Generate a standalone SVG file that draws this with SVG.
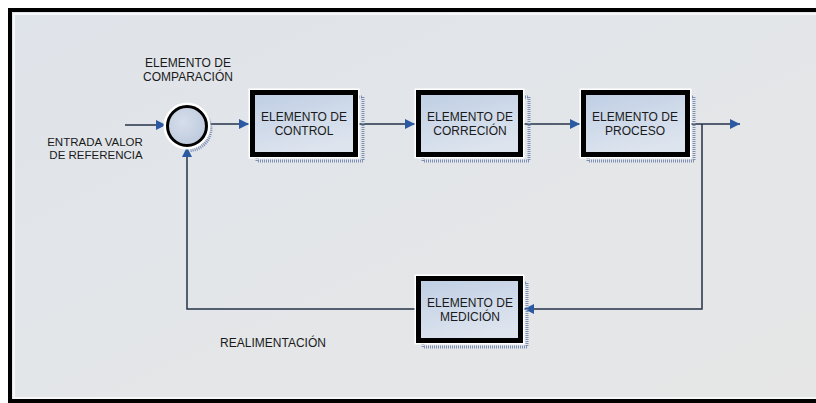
<svg xmlns="http://www.w3.org/2000/svg" width="816" height="403" viewBox="0 0 816 403">
<defs>
<linearGradient id="bg" x1="0" y1="0" x2="1" y2="1">
<stop offset="0" stop-color="#dfe4ea"/>
<stop offset="0.6" stop-color="#e4e6e8"/>
<stop offset="1" stop-color="#e6e6e6"/>
</linearGradient>
<linearGradient id="boxfill" x1="0" y1="0" x2="0.4" y2="1">
<stop offset="0" stop-color="#bfcee4"/>
<stop offset="1" stop-color="#dde4ee"/>
</linearGradient>
<radialGradient id="circfill" cx="0.4" cy="0.4" r="0.7">
<stop offset="0" stop-color="#d6deea"/>
<stop offset="1" stop-color="#bac8dc"/>
</radialGradient>
<marker id="arr" viewBox="0 0 10 10" refX="10" refY="5" markerWidth="10" markerHeight="10" markerUnits="userSpaceOnUse" orient="auto">
<path d="M0,0 L10,5 L0,10 z" fill="#2b5aa3"/>
</marker>
<style>
.lbl{font-family:"Liberation Sans",Arial,sans-serif;font-size:12px;fill:#1a1a1a;text-anchor:middle}
.box{fill:url(#boxfill);stroke:#000;stroke-width:5}
.glow{fill:none;stroke:#ffffff;stroke-width:3}
.shadow{fill:none;stroke:#7d8fb3;stroke-width:3;stroke-dasharray:1 1}
.conn{fill:none;stroke:#25324a;stroke-width:1.5}
</style>
</defs>
<rect x="0" y="0" width="816" height="403" fill="#ffffff"/>
<rect x="12" y="12" width="830" height="388" fill="url(#bg)"/>
<rect x="14" y="14" width="830" height="384" fill="none" stroke="#f6f7f8" stroke-width="2"/>
<rect x="10" y="10" width="840" height="391" fill="none" stroke="#000" stroke-width="4"/>

<g id="connectors">
<line class="conn" x1="125" y1="125" x2="166" y2="125" marker-end="url(#arr)"/>
<line class="conn" x1="208" y1="124" x2="249" y2="124" marker-end="url(#arr)"/>
<line class="conn" x1="358" y1="124" x2="415" y2="124" marker-end="url(#arr)"/>
<line class="conn" x1="523" y1="124" x2="580" y2="124" marker-end="url(#arr)"/>
<line class="conn" x1="690" y1="124" x2="740" y2="124" marker-end="url(#arr)"/>
<polyline class="conn" points="702,124 702,309 524,309" marker-end="url(#arr)"/>
<polyline class="conn" points="416,309 187,309 187,147" marker-end="url(#arr)"/>
</g>

<g id="comparador">
<path d="M205,115 A21,21 0 0 1 190,150" fill="none" stroke="#7d8fb3" stroke-width="4" stroke-dasharray="1 1"/>
<circle cx="187" cy="126" r="22" fill="none" stroke="#ffffff" stroke-width="3"/>
<circle cx="187" cy="126" r="19.5" fill="url(#circfill)" stroke="#000" stroke-width="3"/>
<text class="lbl" x="188" y="67">ELEMENTO DE</text>
<text class="lbl" x="188" y="81">COMPARACIÓN</text>
</g>

<g id="entrada">
<text class="lbl" x="95" y="146" style="font-size:11.5px">ENTRADA  VALOR</text>
<text class="lbl" x="96" y="159" style="font-size:11.5px">DE REFERENCIA</text>
</g>

<g id="control">
<rect class="shadow" x="257" y="97" width="106" height="64"/>
<rect class="glow" x="250" y="90" width="108" height="67"/>
<rect class="box" x="252.5" y="92.5" width="103" height="62"/>
<text class="lbl" x="304" y="121">ELEMENTO DE</text>
<text class="lbl" x="304" y="135">CONTROL</text>
</g>

<g id="correcion">
<rect class="shadow" x="423" y="97" width="106" height="64"/>
<rect class="glow" x="416" y="90" width="107" height="67"/>
<rect class="box" x="418.5" y="92.5" width="102" height="62"/>
<text class="lbl" x="470" y="121">ELEMENTO DE</text>
<text class="lbl" x="470" y="135">CORRECIÓN</text>
</g>

<g id="proceso">
<rect class="shadow" x="588" y="97" width="106" height="64"/>
<rect class="glow" x="581" y="90" width="109" height="67"/>
<rect class="box" x="583.5" y="92.5" width="104" height="62"/>
<text class="lbl" x="635" y="121">ELEMENTO DE</text>
<text class="lbl" x="635" y="135">PROCESO</text>
</g>

<g id="medicion">
<rect class="shadow" x="423" y="283" width="104" height="64"/>
<rect class="glow" x="416" y="276" width="107" height="67"/>
<rect class="box" x="418.5" y="278.5" width="102" height="62"/>
<text class="lbl" x="470" y="307">ELEMENTO DE</text>
<text class="lbl" x="470" y="321">MEDICIÓN</text>
</g>

<g id="realimentacion">
<text class="lbl" x="273" y="347">REALIMENTACIÓN</text>
</g>
</svg>
